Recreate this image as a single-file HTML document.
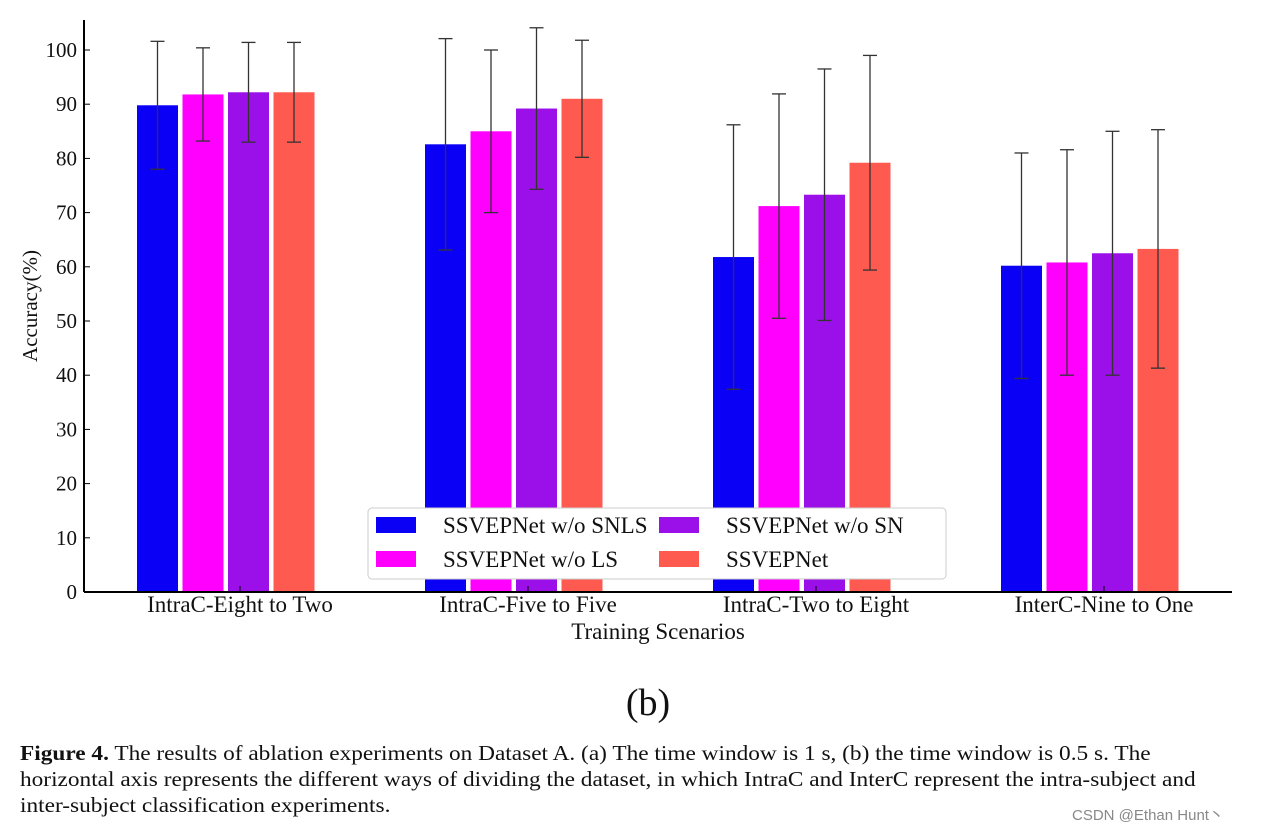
<!DOCTYPE html>
<html><head><meta charset="utf-8"><style>
body{margin:0;background:#fff;width:1262px;height:830px;overflow:hidden;font-family:"Liberation Serif",serif;}
.cap{position:absolute;left:20px;top:740px;font-size:21px;line-height:26px;color:#111;width:1190px;transform:scaleX(1.11);transform-origin:0 0;white-space:nowrap}
</style></head><body>
<svg width="1262" height="830" style="position:absolute;left:0;top:0">
<g id="plot"></g>
</svg>
<div class="cap"><b>Figure 4.</b> The results of ablation experiments on Dataset A. (a) The time window is 1 s, (b) the time window is 0.5 s. The<br>horizontal axis represents the different ways of dividing the dataset, in which IntraC and InterC represent the intra-subject and<br>inter-subject classification experiments.</div>
<div style="position:absolute;left:1072px;top:804px;font-family:'Liberation Sans',sans-serif;font-size:15px;color:#888">CSDN @Ethan Hunt丶</div>
<script>
const categories=["IntraC-Eight to Two","IntraC-Five to Five","IntraC-Two to Eight","InterC-Nine to One"];
const seriesNames=["SSVEPNet w/o SNLS","SSVEPNet w/o LS","SSVEPNet w/o SN","SSVEPNet"];
const means=[[89.8,82.6,61.8,60.2],[91.8,85.0,71.2,60.8],[92.2,89.2,73.3,62.5],[92.2,91.0,79.2,63.3]];
const errs=[[11.8,19.5,24.4,20.8],[8.6,15.0,20.7,20.8],[9.2,14.9,23.2,22.5],[9.2,10.8,19.8,22.0]];
const yTicks=[0,10,20,30,40,50,60,70,80,90,100];
const colors=["#0a00f5","#ff00ff","#9b10e8","#ff5a50"];
const ns="http://www.w3.org/2000/svg";
const g=document.getElementById('plot');
const y=v=>592-v*5.42;
const gx=i=>226+i*288;
function el(t,a,p){const e=document.createElementNS(ns,t);for(const k in a)e.setAttribute(k,a[k]);(p||g).appendChild(e);return e;}
categories.forEach((c,i)=>{
  seriesNames.forEach((s,j)=>{
    const x=gx(i)-89+j*45.5;
    const r=el('rect',{x:x,y:y(means[j][i]),width:41,height:592-y(means[j][i]),fill:colors[j]});
    
    
  });
  seriesNames.forEach((s,j)=>{
    const cx=gx(i)-89+j*45.5+20.5,m=means[j][i],e=errs[j][i];
    const eb=el('g',{stroke:'#333','stroke-width':1.3});
    
    
    el('line',{x1:cx,x2:cx,y1:y(m+e),y2:y(m-e)},eb);
    el('line',{x1:cx-7,x2:cx+7,y1:y(m+e),y2:y(m+e)},eb);
    el('line',{x1:cx-7,x2:cx+7,y1:y(m-e),y2:y(m-e)},eb);
  });
  const t=el('text',{x:gx(i)+14,y:612,'font-size':23,'text-anchor':'middle',fill:'#111'});
  t.textContent=c;
  
  
  el('line',{x1:gx(i)+14,x2:gx(i)+14,y1:592,y2:586,stroke:'#000'});
});
yTicks.forEach(v=>{
  el('line',{x1:84,x2:90,y1:y(v),y2:y(v),stroke:'#000'});
  const t=el('text',{x:77,y:y(v)+7,'font-size':21,'text-anchor':'end',fill:'#111'});
  t.textContent=v;
  
  
});
el('line',{x1:84,x2:84,y1:20,y2:592,stroke:'#000','stroke-width':2});
el('line',{x1:84,x2:1232,y1:592,y2:592,stroke:'#000','stroke-width':2});
let t=el('text',{x:658,y:639,'font-size':23,'text-anchor':'middle',fill:'#111'});t.textContent="Training Scenarios";


t=el('text',{x:0,y:0,'font-size':21,'text-anchor':'middle',fill:'#111',transform:'translate(37,306) rotate(-90)'});t.textContent="Accuracy(%)";


t=el('text',{x:648,y:715,'font-size':38,'text-anchor':'middle',fill:'#111'});t.textContent="(b)";


const lg=el('g',{});


el('rect',{x:368,y:508,width:578,height:71,rx:4,fill:'#fff',stroke:'#ccc'},lg);
seriesNames.forEach((s,j)=>{
  const lx=376+(j>=2?283:0), ly=517+(j%2)*34;
  el('rect',{x:lx,y:ly,width:40,height:16,fill:colors[j]},lg);
  const tt=el('text',{x:lx+67,y:ly+16,'font-size':23,fill:'#111'},lg);tt.textContent=s;
  
  
});
</script>
</body></html>
